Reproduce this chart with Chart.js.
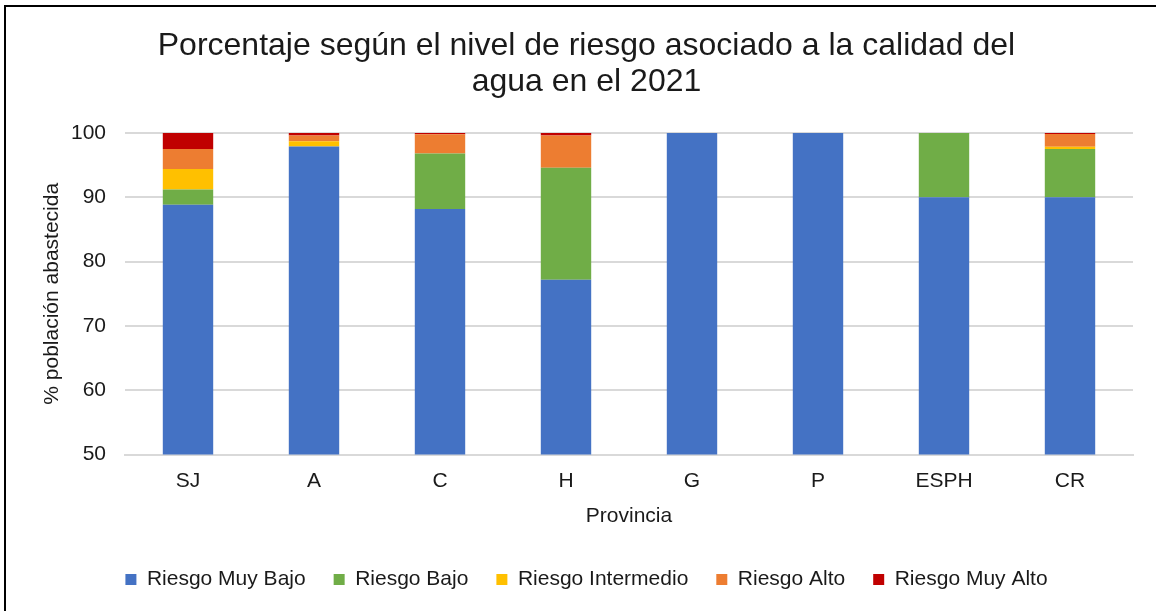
<!DOCTYPE html>
<html>
<head>
<meta charset="utf-8">
<script src="https://cdn.jsdelivr.net/npm/chart.js@4"></script>
<style>
  html, body { margin: 0; padding: 0; background: #fff; overflow: hidden; }
  #wrap { position: relative; width: 1156px; height: 611px; }
  #frame { position: absolute; left: 4px; top: 5px; width: 1200px; height: 700px; border: 2px solid #000; pointer-events: none; }
  canvas { position: absolute; left: 0; top: 0; }
</style>
</head>
<body>
<div id="wrap">
  <canvas id="c" width="1156" height="611"></canvas>
  <div id="frame"></div>
</div>
<script>
const categories = ["SJ", "A", "C", "H", "G", "P", "ESPH", "CR"];
const riesgoMuyBajo    = [88.85, 97.9, 88.2, 77.2, 100, 100, 90, 90];
const riesgoBajo       = [2.35, 0, 8.6, 17.4, 0, 0, 10, 7.5];
const riesgoIntermedio = [3.2, 0.8, 0, 0, 0, 0, 0, 0.35];
const riesgoAlto       = [3.1, 0.9, 3.0, 5.0, 0, 0, 0, 2.0];
const riesgoMuyAlto    = [2.5, 0.4, 0.2, 0.4, 0, 0, 0, 0.15];
const seriesNames = ["Riesgo Muy Bajo", "Riesgo Bajo", "Riesgo Intermedio", "Riesgo Alto", "Riesgo Muy Alto"];
const seriesColors = ["#4472C4", "#70AD47", "#FFC000", "#ED7D31", "#C00000"];
const titleLines = ["Porcentaje según el nivel de riesgo asociado a la calidad del", "agua en el 2021"];

const seriesData = [riesgoMuyBajo, riesgoBajo, riesgoIntermedio, riesgoAlto, riesgoMuyAlto];
const FONT = "'Liberation Sans', Arial, sans-serif";
const TXT = "#1a1a1a";

new Chart(document.getElementById('c'), {
  type: 'bar',
  data: {
    labels: categories,
    datasets: seriesData.map((d, i) => ({
      label: seriesNames[i],
      data: d,
      backgroundColor: seriesColors[i],
      borderWidth: 0,
      barPercentage: 0.4,
      categoryPercentage: 1.0
    }))
  },
  options: {
    responsive: false,
    animation: false,
    layout: { padding: { left: 40, right: 23, top: 29, bottom: 11 } },
    plugins: {
      title: {
        display: true,
        text: titleLines,
        color: TXT,
        font: { family: FONT, size: 32, weight: 'normal', lineHeight: 1.1 },
        padding: { top: 0, bottom: 33.6 }
      },
      legend: {
        position: 'bottom',
        labels: {
          color: TXT,
          font: { family: FONT, size: 21 },
          boxWidth: 11,
          boxHeight: 11,
          padding: 28
        }
      },
      tooltip: { enabled: false }
    },
    scales: {
      x: {
        stacked: true,
        grid: { display: false },
        border: { display: true, color: '#d9d9d9', width: 2 },
        ticks: { color: TXT, font: { family: FONT, size: 21 }, padding: 6 },
        title: { display: true, text: 'Provincia', color: TXT, font: { family: FONT, size: 21 }, padding: { top: 4, bottom: 12 } }
      },
      y: {
        stacked: true,
        min: 50,
        max: 100,
        afterFit: (scale) => { scale.width = 85; },
        ticks: { stepSize: 10, color: TXT, font: { family: FONT, size: 21 }, padding: 19 },
        grid: { color: '#d9d9d9', lineWidth: 2, drawTicks: false },
        border: { display: false },
        title: { display: true, text: '% población abastecida', color: TXT, font: { family: FONT, size: 21 }, padding: { top: 0, bottom: 6 } }
      }
    }
  }
});
</script>
</body>
</html>
